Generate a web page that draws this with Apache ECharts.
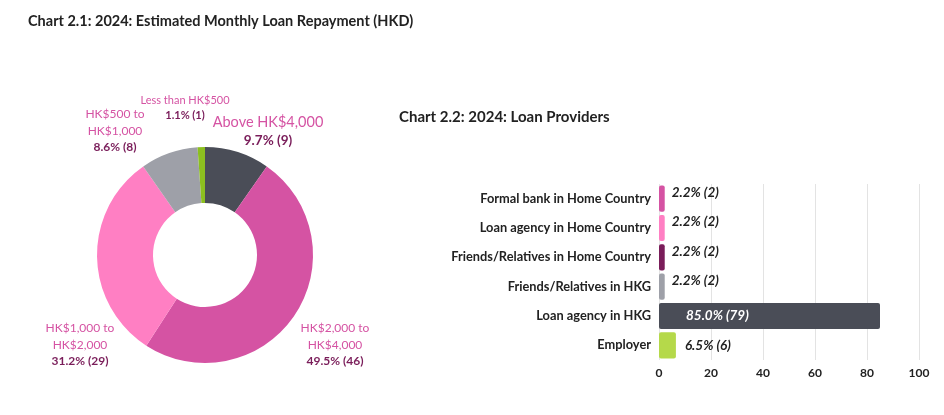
<!DOCTYPE html>
<html><head><meta charset="utf-8">
<script src="https://cdn.jsdelivr.net/npm/echarts@6/dist/echarts.min.js"></script>
<style>html,body{margin:0;padding:0;background:#fff}#c{width:944px;height:415px}</style>
</head><body><div id="c"></div>
<script>
var repayCats = ['Above HK$4,000', 'HK$2,000 to\nHK$4,000', 'HK$1,000 to\nHK$2,000', 'HK$500 to\nHK$1,000', 'Less than HK$500'];
var repayPct = [9.7, 49.5, 31.2, 8.6, 1.1];
var repayCount = [9, 46, 29, 8, 1];
var repayColors = ['#4a4d57', '#d553a3', '#ff7fc3', '#9ea0a8', '#8cbf1f'];

var providerCats = ['Formal bank in Home Country', 'Loan agency in Home Country', 'Friends/Relatives in Home Country', 'Friends/Relatives in HKG', 'Loan agency in HKG', 'Employer'];
var providerPct = [2.2, 2.2, 2.2, 2.2, 85.0, 6.5];
var providerCount = [2, 2, 2, 2, 79, 6];
var providerColors = ['#d553a3', '#ff7fc3', '#7a1d5a', '#9ea0a8', '#4a4d57', '#b5d94a'];
var xTicks = [0, 20, 40, 60, 80, 100];

// label anchor positions for pie labels (text placement only)
var pieLabelPos = [[268, 131], [335, 345], [80, 345], [115, 131], [185, 108]];
var pieLabelSizes = [[14.5, 13.5], [12, 12], [12, 12], [12, 12], [11, 11]];

var chart = echarts.init(document.getElementById('c'));
var FONT = 'Lato, "Open Sans", sans-serif';

var pieData = repayCats.map(function (n, i) {
  return {
    name: n, value: repayPct[i], itemStyle: { color: repayColors[i] },
    label: {
      rich: {
        n: { fontSize: pieLabelSizes[i][0], color: '#d553a3', fontFamily: FONT, lineHeight: pieLabelSizes[i][0] + 4.5, align: 'center' },
        v: { fontSize: pieLabelSizes[i][1], color: '#7a1d5a', fontFamily: FONT, fontWeight: 'bold', lineHeight: pieLabelSizes[i][1] + 4.5, align: 'center' }
      }
    }
  };
});

var barData = providerPct.map(function (v, i) {
  var big = v > 50;
  return {
    value: v, itemStyle: { color: providerColors[i], borderRadius: 2 },
    label: big ? { position: 'insideLeft', color: '#fff', offset: [22, 0] } :
      (i < 4 ? { position: 'right', offset: [2, -6] } : { position: 'right', offset: [4, 0] })
  };
});

chart.setOption({
  animation: false,
  title: [
    { text: 'Chart 2.1: 2024: Estimated Monthly Loan Repayment (HKD)', left: 23, top: 9,
      textStyle: { fontFamily: FONT, fontSize: 14.5, fontWeight: 'bold', color: '#222' } },
    { text: 'Chart 2.2: 2024: Loan Providers', left: 394, top: 105,
      textStyle: { fontFamily: FONT, fontSize: 15, fontWeight: 'bold', color: '#222' } }
  ],
  grid: { left: 659, right: 25, top: 184, bottom: 55, containLabel: false },
  xAxis: {
    type: 'value', min: 0, max: 100, interval: 20,
    axisLine: { show: false }, axisTick: { show: false },
    splitLine: { lineStyle: { color: '#e3e3e3', width: 1 } },
    axisLabel: { color: '#222', fontFamily: FONT, fontWeight: 'bold', fontSize: 12, margin: 7,
      formatter: function (v) { return xTicks.indexOf(v) >= 0 ? String(v) : ''; } }
  },
  yAxis: {
    type: 'category', data: providerCats, inverse: true,
    axisLine: { show: false }, axisTick: { show: false },
    axisLabel: { color: '#222', fontFamily: FONT, fontWeight: 'bold', fontSize: 12.8, margin: 8 }
  },
  series: [
    {
      type: 'pie', center: [205, 255], radius: [52, 108], startAngle: 90, clockwise: true,
      data: pieData, silent: true,
      label: {
        show: true, position: 'outside', overflow: 'none',
        formatter: function (p) {
          return '{n|' + p.name + '}\n{v|' + repayPct[p.dataIndex].toFixed(1) + '% (' + repayCount[p.dataIndex] + ')}';
        }
      },
      labelLine: { show: false },
      labelLayout: function (p) {
        var pos = pieLabelPos[p.dataIndex];
        return { x: pos[0], y: pos[1], align: 'center', verticalAlign: 'middle' };
      }
    },
    {
      type: 'bar', data: barData, barCategoryGap: '11%',
      label: {
        show: true, fontFamily: FONT, fontStyle: 'italic', fontWeight: 'bold', fontSize: 13.5, color: '#222',
        formatter: function (p) { return providerPct[p.dataIndex].toFixed(1) + '% (' + providerCount[p.dataIndex] + ')'; }
      }
    }
  ]
});
</script></body></html>
